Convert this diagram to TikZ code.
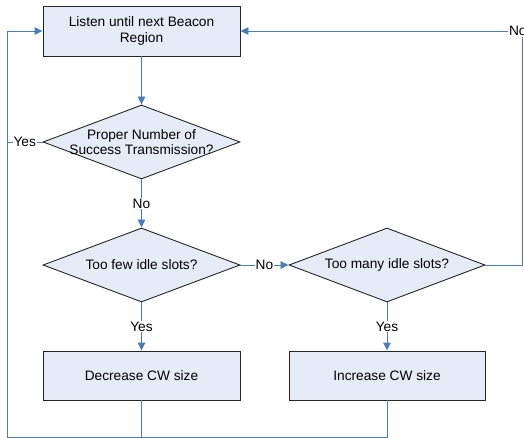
\documentclass[tikz,border=0pt]{standalone}
\usepackage{fontspec}
\setmainfont{Liberation Sans}
\usetikzlibrary{shapes.geometric,arrows.meta}
\definecolor{lineblue}{HTML}{4A7EBB}
\definecolor{boxfill}{HTML}{E6ECF7}
\tikzset{
  every node/.style={font=\fontsize{13.7}{15.7}\selectfont},
  procbox/.style={draw=black!85, fill=boxfill, line width=0.9pt, rectangle, minimum width=197pt, minimum height=50pt, inner sep=0pt, align=center},
  decbox/.style={draw=black!85, fill=boxfill, line width=0.9pt, diamond, minimum width=197pt, minimum height=74pt, inner sep=0pt},
  conn/.style={draw=lineblue, line width=0.9pt},
  arr/.style={conn, -{Triangle[length=8pt,width=7.5pt]}},
  lab/.style={fill=white, inner sep=1pt}
}
\begin{document}
\begin{tikzpicture}[x=1pt,y=-1pt]
\useasboundingbox (0,0) rectangle (524,438);
\node[procbox] (top) at (141.5,31) {Listen until next Beacon\\Region};
\node[decbox, label={[align=center]center:Proper Number of\\Success Transmission?}] (d1) at (141.5,142) {};
\node[decbox, label={center:Too few idle slots?}] (d2) at (141.5,265) {};
\node[decbox, minimum width=196pt, label={center:Too many idle slots?}] (d3) at (387,265) {};
\node[procbox, minimum height=49pt] (dec) at (141.5,375.5) {Decrease CW size};
\node[procbox, minimum width=196pt, minimum height=49pt] (inc) at (387,375.5) {Increase CW size};
\coordinate (cl) at (7,142);
\coordinate (ctl) at (7,31);
\coordinate (cbl) at (7,437);
\coordinate (cbm) at (141.5,437);
\coordinate (cbr) at (387,437);
\coordinate (cr) at (522,265);
\coordinate (ctr) at (522,31);
\draw[arr] (top) -- (d1);
\draw[arr] (d1) -- node[lab] {No} (d2);
\draw[arr] (d2) -- node[lab] {No} (d3);
\draw[arr] (d2) -- node[lab] {Yes} (dec);
\draw[arr] (d3) -- node[lab] {Yes} (inc);
\draw[conn] (dec.south) -- (cbm) -- (cbl) -- (cl);
\draw[conn] (inc.south) -- (cbr) -- (cbm);
\draw[arr] (cl) -- (ctl) -- (top.west);
\draw[conn] (d1.west) -- node[lab] {Yes} (cl);
\draw[conn] (d3.east) -- (cr) -- (ctr);
\draw[arr] (ctr) -- node[lab, pos=0.015] {No} (top.east);
\end{tikzpicture}
\end{document}
